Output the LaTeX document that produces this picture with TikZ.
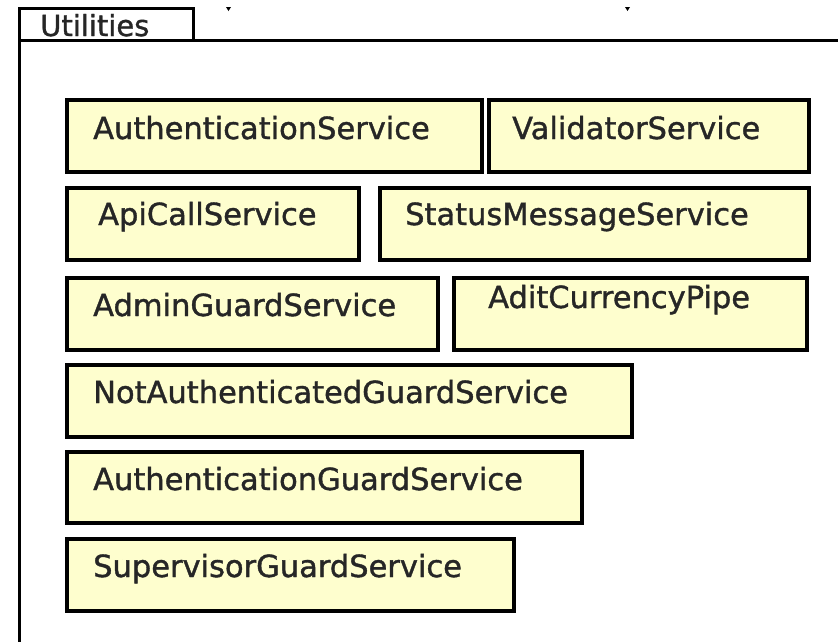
\documentclass[tikz,border=0pt]{standalone}
\usepackage{fontspec}
\setmainfont{DejaVu Sans}
\newfontfamily\heavyfont{DejaVu Sans}[FakeBold=1.2]
\definecolor{boxfill}{RGB}{254,254,206}
\begin{document}
\begin{tikzpicture}[x=1pt,y=-1pt,
  cls/.style={draw=black,line width=3.6pt,fill=boxfill},
  lbl/.style={anchor=base west,inner sep=0pt,font=\heavyfont\fontsize{30.5}{36}\selectfont,text=black!85},
  frame/.style={draw=black,line width=3pt}]
\useasboundingbox[fill=white] (0,0) rectangle (838,641);
% package frame
\draw[frame] (19,660) -- (19,40) -- (845,40);
\draw[frame] (19,40) -- (19,8) -- (193,8) -- (193,40);
\node[anchor=base west,inner sep=0pt,font=\heavyfont\fontsize{29}{34}\selectfont,text=black!85] (pkg) at (40,36) {Utilities};
% tiny marks
\fill (226,7) -- (231,7) -- (228.5,11) -- cycle;
\fill (625,7) -- (630,7) -- (627.5,11) -- cycle;
% classes
\draw[cls] (67,100) rectangle (482,172);
\node[lbl] (b1) at (93,139) {AuthenticationService};
\draw[cls] (489,100) rectangle (809,172);
\node[lbl] (b2) at (512,139) {ValidatorService};
\draw[cls] (67,188) rectangle (359,260);
\node[lbl] (b3) at (98,225) {ApiCallService};
\draw[cls] (380,188) rectangle (809,260);
\node[lbl] (b4) at (405,225) {StatusMessageService};
\draw[cls] (67,278) rectangle (438,350);
\node[lbl] (b5) at (93,316) {AdminGuardService};
\draw[cls] (454,278) rectangle (807,350);
\node[lbl] (b6) at (488,308) {AditCurrencyPipe};
\draw[cls] (67,365) rectangle (632,437);
\node[lbl] (b7) at (93,403) {NotAuthenticatedGuardService};
\draw[cls] (67,452) rectangle (582,523);
\node[lbl] (b8) at (93,490) {AuthenticationGuardService};
\draw[cls] (67,539) rectangle (514,611);
\node[lbl] (b9) at (93,577) {SupervisorGuardService};
\end{tikzpicture}
\end{document}
